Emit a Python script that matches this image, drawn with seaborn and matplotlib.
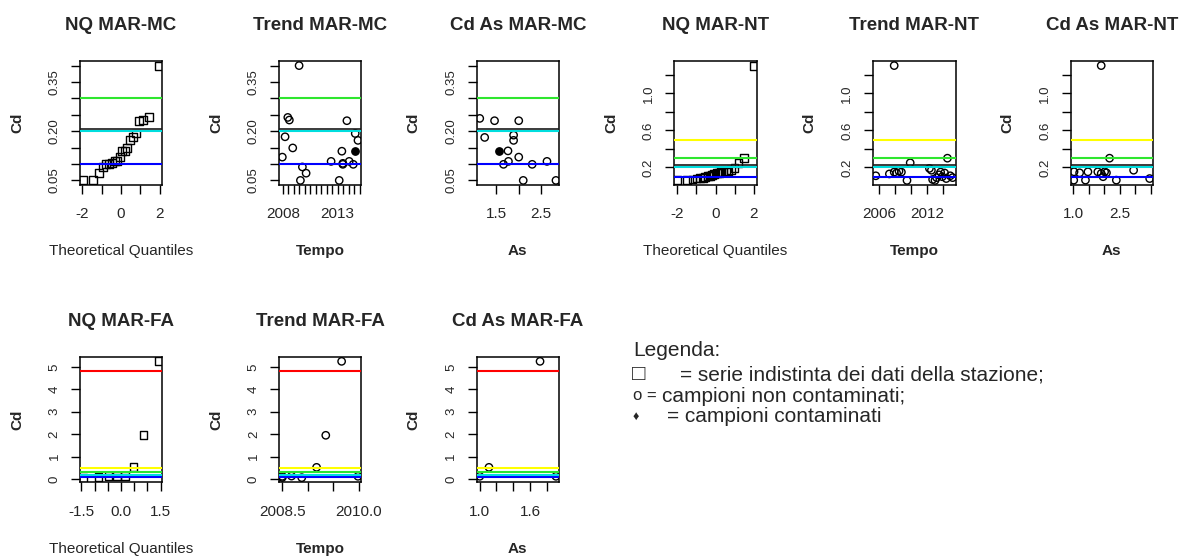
import matplotlib
matplotlib.use("Agg")
import matplotlib.pyplot as plt
import matplotlib.transforms as mtransforms
import seaborn as sns
import pandas as pd
from statistics import NormalDist

# ------------------------------------------------------------------ data
# Station MAR-MC
MC_TEMPO = [2009.49, 2008.46, 2008.60, 2013.85, 2008.21, 2008.91, 2007.96, 2009.79, 2010.13, 2009.61,
            2012.41, 2013.15, 2013.39, 2013.48, 2014.06, 2014.43, 2014.61, 2014.61, 2014.86, 2013.48]
MC_CD = [0.400, 0.242, 0.234, 0.232, 0.183, 0.149, 0.121, 0.091, 0.072, 0.050,
         0.108, 0.050, 0.139, 0.099, 0.108, 0.099, 0.139, 0.193, 0.172, 0.102]
MC_CONTAM = [False, False, False, False, False, False, False, False, False, False,
             False, False, False, False, False, False, True, False, False, False]
MC_AS = [1.13, 1.46, 2.00, 1.24, 1.885, 1.885, 1.56, 1.76, 2.00, 1.77, 1.66, 2.30, 2.63, 2.10, 2.83]
MC_AS_CD = [0.239, 0.232, 0.232, 0.181, 0.188, 0.172, 0.140, 0.140, 0.121, 0.108, 0.099, 0.099, 0.108, 0.050, 0.050]
MC_AS_CONTAM = [False, False, False, False, False, False, True, False, False, False, False, False, False, False, False]

# Station MAR-NT
NT_TEMPO = [2007.9, 2014.55, 2009.9, 2005.6, 2007.3, 2007.9, 2008.2, 2008.5, 2008.8, 2009.5, 2012.55,
            2012.7, 2013.0, 2013.2, 2013.5, 2013.7, 2013.9, 2014.2, 2014.4, 2014.9, 2015.2, 2012.3]
NT_CD = [1.30, 0.30, 0.25, 0.11, 0.13, 0.15, 0.14, 0.16, 0.15, 0.06, 0.17,
         0.07, 0.06, 0.09, 0.12, 0.15, 0.10, 0.14, 0.08, 0.11, 0.09, 0.19]
NT_AS = [1.90, 2.17, 1.01, 1.02, 1.20, 1.39, 1.47, 1.79, 1.90, 1.96, 2.01, 2.07, 2.39, 2.95, 3.47]
NT_AS_CD = [1.30, 0.30, 0.063, 0.153, 0.142, 0.063, 0.153, 0.153, 0.135, 0.10, 0.153, 0.142, 0.063, 0.17, 0.08]

# Station MAR-FA
FA_TEMPO = [2008.5, 2008.5, 2008.68, 2008.88, 2009.17, 2009.35, 2009.66, 2009.98]
FA_CD = [0.12, 0.07, 0.13, 0.06, 0.52, 1.95, 5.25, 0.12]
FA_AS = [1.00, 1.11, 1.72, 1.91]
FA_AS_CD = [0.12, 0.52, 5.25, 0.12]

# Reference threshold lines
THRESH_VALUES = [0.1, 0.2, 0.3, 0.5, 4.8]
THRESH_COLORS = ["#0000ff", "#00dede", "#2ee62e", "#ffff00", "#ff0000"]

# Ticks and tick labels (R drops overlapping labels)
NQ_MC_XT, NQ_MC_XTL = [-2, -1, 0, 1, 2], ["-2", "", "0", "", "2"]
MC_YT = [0.05, 0.10, 0.15, 0.20, 0.25, 0.30, 0.35, 0.40]
MC_YTL = ["0.05", "", "", "0.20", "", "", "0.35", ""]
TR_MC_XT = [2008, 2008.5, 2009, 2009.5, 2010, 2010.5, 2011, 2011.5, 2012, 2012.5, 2013, 2013.5, 2014, 2014.5, 2015]
TR_MC_XTL = ["2008", "", "", "", "", "", "", "", "", "", "2013", "", "", "", ""]
AS_MC_XT, AS_MC_XTL = [1.5, 2.0, 2.5], ["1.5", "", "2.5"]

NQ_NT_XT, NQ_NT_XTL = [-2, -1, 0, 1, 2], ["-2", "", "0", "", "2"]
NT_YT, NT_YTL = [0.2, 0.4, 0.6, 0.8, 1.0, 1.2], ["0.2", "", "0.6", "", "1.0", ""]
TR_NT_XT, TR_NT_XTL = [2006, 2008, 2010, 2012, 2014], ["2006", "", "", "2012", ""]
AS_NT_XT, AS_NT_XTL = [1.0, 1.5, 2.0, 2.5, 3.0, 3.5], ["1.0", "", "", "2.5", "", ""]

NQ_FA_XT = [-1.5, -1.0, -0.5, 0.0, 0.5, 1.0, 1.5]
NQ_FA_XTL = ["-1.5", "", "", "0.0", "", "", "1.5"]
FA_YT, FA_YTL = [0, 1, 2, 3, 4, 5], ["0", "1", "2", "3", "4", "5"]
TR_FA_XT, TR_FA_XTL = [2008.5, 2009.0, 2009.5, 2010.0], ["2008.5", "", "", "2010.0"]
AS_FA_XT, AS_FA_XTL = [1.0, 1.2, 1.4, 1.6, 1.8], ["1.0", "", "", "1.6", ""]

LEGEND_TITLE = "Legenda:"
LEGEND_ROWS = [("\u25a1", "= serie indistinta dei dati della stazione;"),
               ("o =", "campioni non contaminati;"),
               ("\u2666", "= campioni contaminati")]

# ------------------------------------------------------------------ style
sns.set_style("white")
plt.rcParams["font.family"] = ["Liberation Sans", "DejaVu Sans"]

W, H = 1180, 556
fig = plt.figure(figsize=(W / 100, H / 100), dpi=100)

ROWS_PX = [(61, 185), (356.7, 482.3)]
COLS_PX = [(80, 162), (279.3, 361), (476.7, 559), (674.3, 756.7), (872.7, 955.7), (1070.7, 1152.7)]


def make_ax(col, row):
    x0, x1 = COLS_PX[col]
    y0, y1 = ROWS_PX[row]
    ax = fig.add_axes([x0 / W, 1 - y1 / H, (x1 - x0) / W, (y1 - y0) / H])
    return ax, x1 - x0, y1 - y0


def rlim(v):
    lo, hi = min(v), max(v)
    d = 0.04 * (hi - lo)
    return lo - d, hi + d


def qq(values):
    n = len(values)
    a = 3 / 8 if n <= 10 else 0.5
    probs = [(i - a) / (n + 1 - 2 * a) for i in range(1, n + 1)]
    return [NormalDist().inv_cdf(p) for p in probs], sorted(values)


def panel(col, row, x, y, contam, square, title, xlabel, xt, xtl, yt, ytl, ylim, title_off):
    ax, wpx, hpx = make_ax(col, row)
    df = pd.DataFrame({"x": x, "y": y, "c": contam})
    if square:
        sns.scatterplot(data=df, x="x", y="y", marker="s", s=32, facecolor="none",
                        edgecolor="black", linewidth=1.0, legend=False, ax=ax, zorder=2)
    else:
        d0 = df[~df["c"]]
        sns.scatterplot(data=d0, x="x", y="y", marker="o", s=28, facecolor="none",
                        edgecolor="black", linewidth=1.0, legend=False, ax=ax, zorder=2)
        d1 = df[df["c"]]
        if len(d1):
            sns.scatterplot(data=d1, x="x", y="y", marker="o", s=28, color="black",
                            edgecolor="black", linewidth=1.0, legend=False, ax=ax, zorder=2)
    for v, c in zip(THRESH_VALUES, THRESH_COLORS):
        ax.axhline(v, color=c, lw=1.5, zorder=3)
        if v == 0.2:
            ln = ax.axhline(v, color="#1a1a1a", lw=1.2, zorder=3)
            ln.set_transform(mtransforms.offset_copy(ln.get_transform(), fig=fig, x=0, y=2.2, units="dots"))
    ax.set_xlim(*rlim(x))
    ax.set_ylim(*ylim)
    ax.set_xticks(xt)
    ax.set_xticklabels(xtl)
    ax.set_yticks(yt)
    ax.set_yticklabels(ytl)
    ax.tick_params(axis="both", direction="out", length=6.5, width=1.0, color="black",
                   bottom=True, left=True, top=False, right=False)
    ax.tick_params(axis="x", labelsize=11, pad=9.5)
    ax.tick_params(axis="y", labelsize=9.5, pad=7.5)
    plt.setp(ax.get_yticklabels(), rotation=90, va="center")
    for s in ax.spines.values():
        s.set_color("black")
        s.set_linewidth(1.1)
        s.set_visible(True)
    ax.set_title(title, fontsize=13.5, fontweight="bold", y=1 + title_off / hpx, va="center", pad=0)
    bold = xlabel != "Theoretical Quantiles"
    ax.set_xlabel(xlabel, fontsize=11, fontweight="bold" if bold else "normal")
    ax.xaxis.set_label_coords(0.5, -66.5 / hpx)
    ax.xaxis.label.set_va("center")
    ax.set_ylabel("Cd", fontsize=11, fontweight="bold")
    ax.yaxis.set_label_coords(-63 / wpx, 0.5)
    ax.yaxis.label.set_va("center")
    return ax


# station MC
ylim_mc = rlim(MC_CD)
qx, qy = qq(MC_CD)
panel(0, 0, qx, qy, [False] * len(qx), True, "NQ MAR-MC", "Theoretical Quantiles",
      NQ_MC_XT, NQ_MC_XTL, MC_YT, MC_YTL, ylim_mc, 36)
panel(1, 0, MC_TEMPO, MC_CD, MC_CONTAM, False, "Trend MAR-MC", "Tempo",
      TR_MC_XT, TR_MC_XTL, MC_YT, MC_YTL, ylim_mc, 36)
panel(2, 0, MC_AS, MC_AS_CD, MC_AS_CONTAM, False, "Cd As MAR-MC", "As",
      AS_MC_XT, AS_MC_XTL, MC_YT, MC_YTL, ylim_mc, 36)

# station NT
ylim_nt = rlim(NT_CD)
qx, qy = qq(NT_CD)
panel(3, 0, qx, qy, [False] * len(qx), True, "NQ MAR-NT", "Theoretical Quantiles",
      NQ_NT_XT, NQ_NT_XTL, NT_YT, NT_YTL, ylim_nt, 36)
panel(4, 0, NT_TEMPO, NT_CD, [False] * len(NT_CD), False, "Trend MAR-NT", "Tempo",
      TR_NT_XT, TR_NT_XTL, NT_YT, NT_YTL, ylim_nt, 36)
panel(5, 0, NT_AS, NT_AS_CD, [False] * len(NT_AS), False, "Cd As MAR-NT", "As",
      AS_NT_XT, AS_NT_XTL, NT_YT, NT_YTL, ylim_nt, 36)

# station FA
ylim_fa = rlim(FA_CD)
qx, qy = qq(FA_CD)
panel(0, 1, qx, qy, [False] * len(qx), True, "NQ MAR-FA", "Theoretical Quantiles",
      NQ_FA_XT, NQ_FA_XTL, FA_YT, FA_YTL, ylim_fa, 35)
panel(1, 1, FA_TEMPO, FA_CD, [False] * len(FA_CD), False, "Trend MAR-FA", "Tempo",
      TR_FA_XT, TR_FA_XTL, FA_YT, FA_YTL, ylim_fa, 35)
panel(2, 1, FA_AS, FA_AS_CD, [False] * len(FA_AS), False, "Cd As MAR-FA", "As",
      AS_FA_XT, AS_FA_XTL, FA_YT, FA_YTL, ylim_fa, 35)

# legend text block
fig.text(633 / W, 1 - 351 / H, LEGEND_TITLE, fontsize=15, ha="left", va="center")
sym_x = [632, 633, 633]
txt_x = [680, 662, 667]
row_y = [375, 396, 417]
sym_size = [16, 12, 9]
for (sym, txt), sx, tx, ry, ss in zip(LEGEND_ROWS, sym_x, txt_x, row_y, sym_size):
    fig.text(sx / W, 1 - ry / H, sym, fontsize=ss, ha="left", va="center")
    fig.text(tx / W, 1 - ry / H, txt, fontsize=15, ha="left", va="center")

fig.savefig("out.png", dpi=100, facecolor="white")
